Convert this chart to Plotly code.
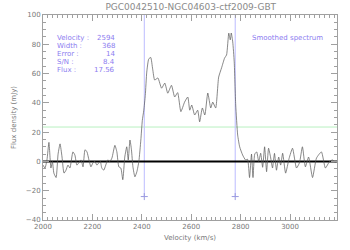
import plotly.graph_objects as go

velocity = [2000, 2008, 2016, 2024, 2032, 2038, 2044, 2053, 2061, 2069, 2077, 2085, 2093, 2101, 2109,
            2121, 2129, 2137, 2145, 2154, 2162, 2170, 2178, 2186, 2194, 2202, 2210, 2218, 2226, 2232,
            2238, 2246, 2254, 2262, 2271, 2279, 2291, 2299, 2307, 2315, 2323, 2331, 2339, 2345, 2352,
            2358, 2364, 2372, 2380, 2388, 2396, 2402, 2408, 2414, 2420, 2428, 2436, 2444, 2452, 2465,
            2480, 2493, 2505, 2520, 2533, 2545, 2558, 2573, 2586, 2594, 2602, 2614, 2626, 2634, 2645,
            2655, 2667, 2679, 2687, 2699, 2711, 2723, 2735, 2743, 2752, 2758, 2762, 2768, 2774, 2780,
            2788, 2796, 2808, 2820, 2828, 2836, 2844, 2850, 2857, 2865, 2873, 2881, 2889, 2897, 2905,
            2913, 2921, 2929, 2937, 2945, 2954, 2962, 2970, 2982, 2996, 3010, 3026, 3038, 3050, 3062,
            3075, 3091, 3107, 3127, 3143, 3160, 3172, 3184]
flux = [-2.5, -4.5, 1, 13, -4.5, 0, -8, -11, 5, 12, 3, -8, -6, -2.5, -4.5,
        6.5, 4.4, -2.5, -1, 1, -3.7, 8, 6.5, 1, -3.7, -1, 0, -2.5, -1, 0,
        -4.5, -6, -2.5, 1, 0, 2.3, 11, 6.5, -3.7, -4.5, -12.5, 3, 10, 1, 14.6,
        8, -3.7, -10.5, -7, 0, 14.6, 28, 35, 45, 61, 70, 71, 63, 55.6, 57,
        50, 53.5, 46.6, 52, 44, 47, 34, 40.5, 44, 35, 38.5, 31.7, 35, 27, 36.5,
        31.7, 46.7, 36.5, 40.5, 36.5, 57.6, 64, 70.6, 72.7, 87.6, 83, 87.7, 81.6, 68, 38.5,
        18, 10, 4.4, 1, 1.5, -11, 5, -11, 5, 6.5, 0, 5.6, -4, 10, -7,
        9, 3, -4.5, 5.5, -6, 3, -2.5, 5.6, -8, 2, 9, -4.5, -1, 10, -3.7,
        3, -11, 2.3, 6.5, -4.5, 0, 1, -1]

title = "PGC0042510-NGC04603-ctf2009-GBT"
info_labels = ["Velocity :", "Width :", "Error :", "S/N :", "Flux :"]
info_values = ["2594", "368", "14", "8.4", "17.56"]
v_center = 2594
v_width = 368
green_level = 23.5
marker_level = -24
x_range = [2000, 3190]
y_range = [-40, 100]

v_lo = v_center - v_width / 2
v_hi = v_center + v_width / 2

fig = go.Figure()

fig.add_trace(go.Scatter(x=x_range, y=[green_level, green_level], mode="lines",
                         line=dict(color="#b8f0c0", width=1), hoverinfo="skip"))
for v in (v_lo, v_hi):
    fig.add_trace(go.Scatter(x=[v, v], y=[marker_level, y_range[1]], mode="lines",
                             line=dict(color="#bcbcff", width=1), hoverinfo="skip"))
    fig.add_trace(go.Scatter(x=[v], y=[marker_level], mode="markers",
                             marker=dict(symbol="cross-thin", size=5,
                                         line=dict(color="#9a9ae0", width=1)),
                             hoverinfo="skip"))
fig.add_trace(go.Scatter(x=x_range, y=[0, 0], mode="lines",
                         line=dict(color="black", width=2), hoverinfo="skip"))
fig.add_trace(go.Scatter(x=velocity, y=flux, mode="lines",
                         line=dict(color="#555555", width=0.7, shape="spline", smoothing=0.5)))

tickfont = dict(family="DejaVu Sans", size=7, color="#787878")
axis_common = dict(showline=True, linecolor="#a0a0a0", linewidth=1, mirror="ticks",
                   ticks="inside", tickcolor="#a0a0a0", ticklen=6, showgrid=False,
                   zeroline=False, tickfont=tickfont, automargin=False)

fig.update_xaxes(range=x_range, dtick=200, tick0=2000,
                 minor=dict(ticks="inside", dtick=20, ticklen=3, tickcolor="#a0a0a0"),
                 title=dict(text="Velocity (km/s)", font=dict(family="DejaVu Sans", size=7, color="#787878"),
                            standoff=4),
                 **axis_common)
fig.update_yaxes(range=y_range, dtick=20, tick0=0,
                 minor=dict(ticks="inside", dtick=5, ticklen=3, tickcolor="#a0a0a0"),
                 title=dict(text="Flux density (mJy)", font=dict(family="DejaVu Sans", size=7, color="#787878"),
                            standoff=8),
                 **axis_common)

annotations = []
row_y = [0.888, 0.849, 0.810, 0.771, 0.732]
acol = "#8c7cf0"
for lab, val, yy in zip(info_labels, info_values, row_y):
    annotations.append(dict(x=0.041, y=yy, xref="paper", yref="paper", text=lab, showarrow=False,
                            xanchor="left", yanchor="middle",
                            font=dict(family="DejaVu Sans", size=7, color=acol)))
    annotations.append(dict(x=0.252, y=yy, xref="paper", yref="paper", text=val, showarrow=False,
                            xanchor="right", yanchor="middle",
                            font=dict(family="DejaVu Sans", size=7, color=acol)))
annotations.append(dict(x=0.83, y=0.888, xref="paper", yref="paper", text="Smoothed spectrum",
                        showarrow=False, xanchor="center", yanchor="middle",
                        font=dict(family="DejaVu Sans", size=7, color=acol)))

fig.update_layout(
    width=350, height=250,
    margin=dict(l=43, r=13, t=15, b=30, autoexpand=False),
    paper_bgcolor="white", plot_bgcolor="white",
    showlegend=False,
    title=dict(text=title, x=0.545, xanchor="center", y=0.972, yanchor="middle",
               font=dict(family="DejaVu Sans", size=9, color="#8a8a8a")),
    annotations=annotations,
)

fig.write_html("out.html", config={"displayModeBar": False},
               post_script="document.body.style.margin='0';")
